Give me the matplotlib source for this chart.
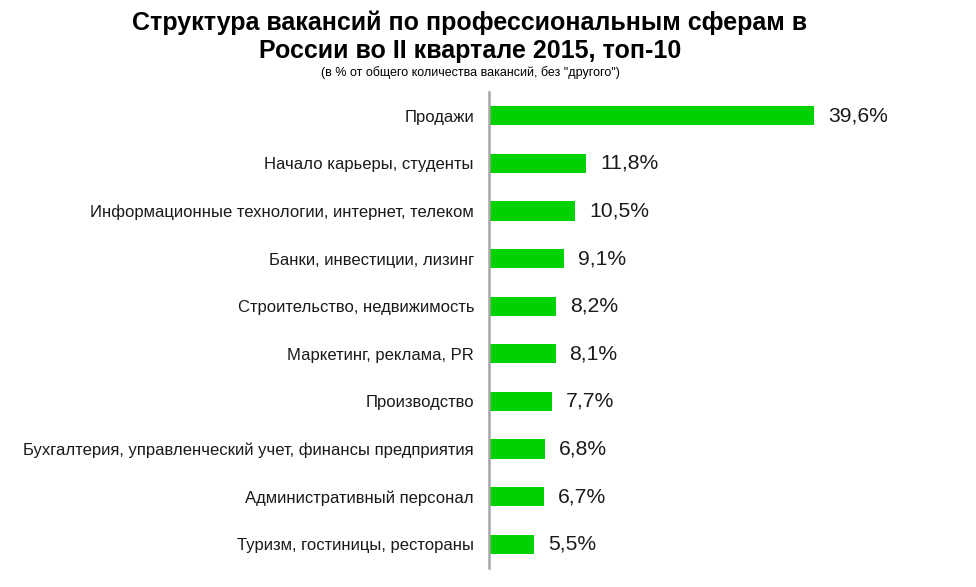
import matplotlib
matplotlib.use("Agg")
import matplotlib.pyplot as plt

categories = [
    "Продажи",
    "Начало карьеры, студенты",
    "Информационные технологии, интернет, телеком",
    "Банки, инвестиции, лизинг",
    "Строительство, недвижимость",
    "Маркетинг, реклама, PR",
    "Производство",
    "Бухгалтерия, управленческий учет, финансы предприятия",
    "Административный персонал",
    "Туризм, гостиницы, рестораны",
]
values = [39.6, 11.8, 10.5, 9.1, 8.2, 8.1, 7.7, 6.8, 6.7, 5.5]
value_labels = ["39,6%", "11,8%", "10,5%", "9,1%", "8,2%", "8,1%", "7,7%", "6,8%", "6,7%", "5,5%"]

title = "Структура вакансий по профессиональным сферам в\nРоссии во II квартале 2015, топ-10"
subtitle = "(в % от общего количества вакансий, без \"другого\")"

plt.rcParams['font.family'] = ['Liberation Sans', 'DejaVu Sans']

W, H = 976, 587
fig = plt.figure(figsize=(W / 100, H / 100), dpi=100)
fig.patch.set_facecolor('white')

ax_left, ax_right = 489, 489 + 45 * 8.21
ax_top, ax_bottom = 92, 568
ax = fig.add_axes([ax_left / W, 1 - ax_bottom / H, (ax_right - ax_left) / W, (ax_bottom - ax_top) / H])

y = list(range(len(categories)))
ax.barh(y, values, height=0.4, color='#00D200', zorder=2)
ax.set_ylim(len(categories) - 0.5, -0.5)
ax.set_xlim(0, 45)
ax.set_yticks(y)
ax.set_yticklabels(categories, fontsize=12, color='#1a1a1a')
ax.tick_params(axis='y', length=0, pad=10.8)
ax.set_xticks([])
for s in ['top', 'right', 'bottom']:
    ax.spines[s].set_visible(False)
ax.spines['left'].set_color('#A6A6A6')
ax.spines['left'].set_linewidth(1.8)

for yi, v, lab in zip(y, values, value_labels):
    ax.annotate(lab, xy=(v, yi), xytext=(14, 0), textcoords='offset pixels',
                va='center', ha='left', fontsize=15.2, color='#1a1a1a')

fig.text(470 / W, 1 - 37 / H, title, ha='center', va='center', fontsize=18, fontweight='bold',
         linespacing=1.22, color='black')
fig.text(470 / W, 1 - 73 / H, subtitle, ha='center', va='center', fontsize=9, color='black')

fig.savefig('out.png', dpi=100, facecolor='white')
